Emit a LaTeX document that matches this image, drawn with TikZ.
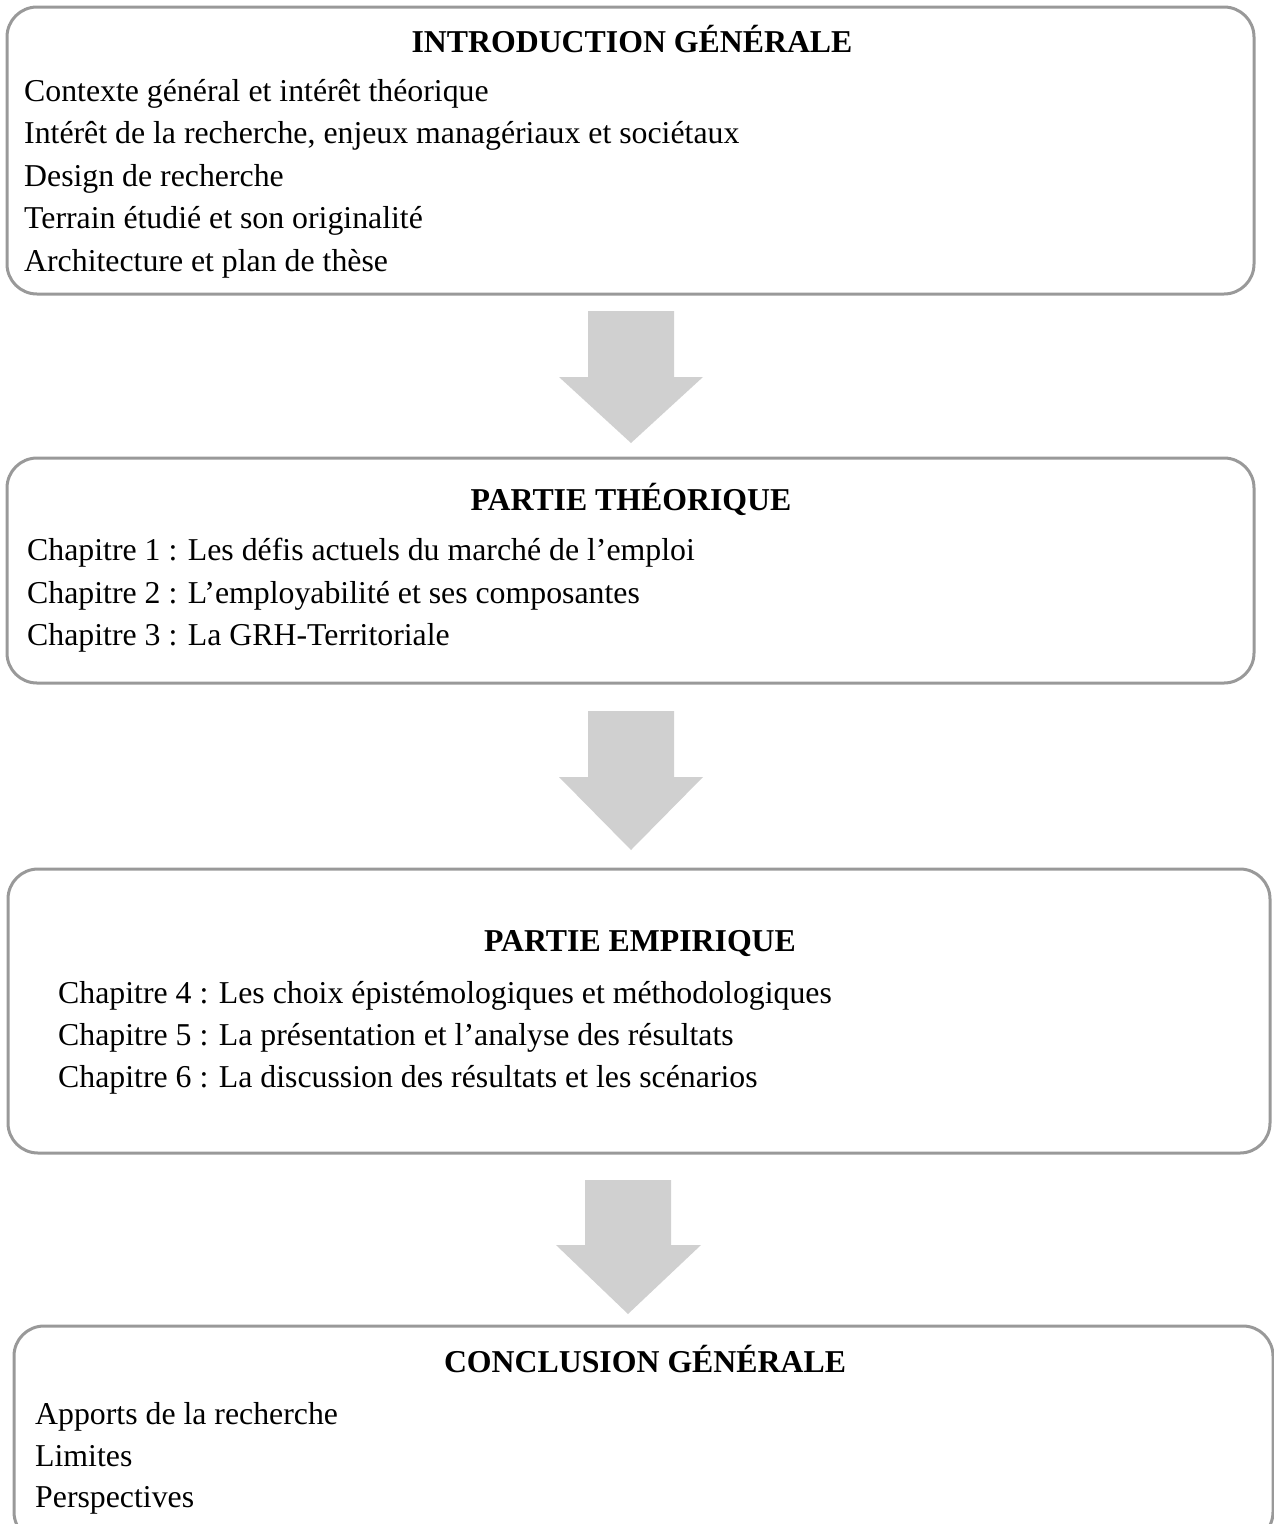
\documentclass[tikz,border=0pt]{standalone}
\usepackage{fontspec}
\setmainfont{Liberation Serif}
\definecolor{boxline}{HTML}{999999}
\definecolor{arrowfill}{HTML}{D0D0D0}
\begin{document}
\begin{tikzpicture}[x=1pt,y=-1pt,
  frame/.style={draw=boxline,line width=3pt,rounded corners=30pt},
  blockarrow/.style={fill=arrowfill,draw=none},
  ttl/.style={font=\fontsize{31.8}{38}\selectfont\bfseries,anchor=base,inner sep=0pt},
  itm/.style={font=\fontsize{31.8}{38}\selectfont,anchor=base west,inner sep=0pt}]
\useasboundingbox (0,0) rectangle (1274,1524);
\clip (0,0) rectangle (1274,1524);
% boxes
\draw[frame] (7,7) rectangle (1254,294);
\draw[frame] (7,458) rectangle (1254,683);
\draw[frame] (8,869) rectangle (1270,1153);
\draw[frame] (14,1326) rectangle (1273,1542);
% block arrows
\draw[blockarrow] (588,311) -- (674,311) -- (674,377) -- (703,377) -- (631,443) -- (559,377) -- (588,377) -- cycle;
\draw[blockarrow] (588,711) -- (674,711) -- (674,777) -- (703,777) -- (631,850) -- (559,777) -- (588,777) -- cycle;
\draw[blockarrow] (585,1180) -- (671,1180) -- (671,1245) -- (701,1245) -- (628,1314) -- (556,1245) -- (585,1245) -- cycle;
% box 1
\node[ttl] (t1) at (632,52) {INTRODUCTION GÉNÉRALE};
\node[itm] (a1) at (24,101) {Contexte général et intérêt théorique};
\node[itm] (a2) at (24,143) {Intérêt de la recherche, enjeux managériaux et sociétaux};
\node[itm] (a3) at (24,186) {Design de recherche};
\node[itm] (a4) at (24,228) {Terrain étudié et son originalité};
\node[itm] (a5) at (24,271) {Architecture et plan de thèse};
% box 2
\node[ttl] (t2) at (631,510) {PARTIE THÉORIQUE};
\node[itm] (b1) at (27,560) {Chapitre 1 : Les défis actuels du marché de l’emploi};
\node[itm] (b2) at (27,603) {Chapitre 2 : L’employabilité et ses composantes};
\node[itm] (b3) at (27,645) {Chapitre 3 : La GRH-Territoriale};
% box 3
\node[ttl] (t3) at (640,951) {PARTIE EMPIRIQUE};
\node[itm] (c1) at (58,1003) {Chapitre 4 : Les choix épistémologiques et méthodologiques};
\node[itm] (c2) at (58,1045) {Chapitre 5 : La présentation et l’analyse des résultats};
\node[itm] (c3) at (58,1087) {Chapitre 6 : La discussion des résultats et les scénarios};
% box 4
\node[ttl] (t4) at (645,1372) {CONCLUSION GÉNÉRALE};
\node[itm] (d1) at (35,1424) {Apports de la recherche};
\node[itm] (d2) at (35,1466) {Limites};
\node[itm] (d3) at (35,1507) {Perspectives};
\end{tikzpicture}
\end{document}
